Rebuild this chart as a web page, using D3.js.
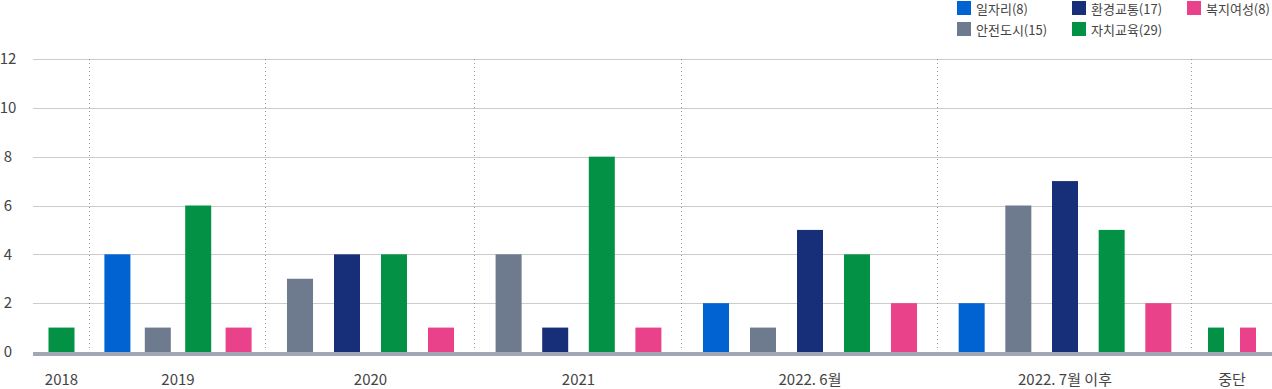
<!DOCTYPE html>
<html>
<head>
<meta charset="utf-8">
<script src="https://cdn.jsdelivr.net/npm/d3@7"></script>
<style>
  body { margin: 0; background: #fff; }
  svg text { font-family: "Noto Sans CJK KR", "Noto Sans", sans-serif; }
</style>
</head>
<body>
<script>
// categories in the order they appear inside each group
const categories = ['일자리', '안전도시', '환경교통', '자치교육', '복지여성'];
const colors = ['#0063d1', '#6e7a8e', '#172f78', '#039145', '#e9418a'];
const periods = ['2018', '2019', '2020', '2021', '2022. 6월', '2022. 7월 이후', '중단'];

// values per period, null = no bar
const jobs      = [null, 4, null, null, 2, 2, null];
const safety    = [null, 1, 3, 4, 1, 6, null];
const transport = [null, null, 4, 1, 5, 7, null];
const education = [1, 6, 4, 8, 4, 5, 1];
const welfare   = [null, 1, 1, 1, 2, 2, 1];

const yTicks = [0, 2, 4, 6, 8, 10, 12];

const series = [jobs, safety, transport, education, welfare];

// layout: relative width of each period column and its bar width
const groupFlex = [57, 176, 209, 207, 256, 254, 80];
const groupBarW = [26, 26, 26, 26, 26, 26, 16];

const width = 1272, height = 389;
const left = 33, right = 1272;

const svg = d3.select('body')
  .append('svg')
  .attr('width', width)
  .attr('height', height);

// outer scale: cumulative column weights -> pixels
const cum = [0];
groupFlex.forEach((w, i) => cum.push(cum[i] + w));
const gx = d3.scaleLinear()
  .domain([0, cum[cum.length - 1]])
  .range([left, right]);

const y = d3.scaleLinear()
  .domain([0, 12])
  .range([352, 59]);

// one band scale per period, bars spaced evenly
const groups = periods.map((p, g) => {
  const cats = categories.map((c, i) => i).filter(i => series[i][g] != null);
  const x0 = gx(cum[g]), x1 = gx(cum[g + 1]);
  const n = cats.length, bw = groupBarW[g];
  const gap = ((x1 - x0) - n * bw) / (n + 1);
  const pad = gap / (bw + gap);
  const band = d3.scaleBand()
    .domain(cats)
    .range([x0, x1])
    .paddingInner(pad)
    .paddingOuter(pad);
  return { name: p, index: g, cats: cats, band: band, x0: x0, x1: x1 };
});

const bars = [];
groups.forEach(gr => {
  gr.cats.forEach(c => bars.push({ group: gr, cat: c, value: series[c][gr.index] }));
});

// grid lines
svg.append('g')
  .selectAll('line')
  .data(yTicks.filter(d => d > 0))
  .enter()
  .append('line')
  .attr('x1', left)
  .attr('x2', right)
  .attr('y1', d => Math.round(y(d)) + 0.5)
  .attr('y2', d => Math.round(y(d)) + 0.5)
  .attr('stroke', '#cccccc');

// y axis labels
const yAxis = d3.axisLeft(y).tickValues(yTicks).tickSize(0).tickPadding(0);
const ya = svg.append('g')
  .attr('transform', 'translate(8,0)')
  .call(yAxis);
ya.select('.domain').remove();
ya.selectAll('text')
  .attr('text-anchor', 'middle')
  .attr('font-size', 15)
  .attr('fill', '#444')
  .style('font-family', '"Noto Sans CJK KR", sans-serif');

// dotted separators
svg.append('g')
  .selectAll('line')
  .data(groups.slice(1))
  .enter()
  .append('line')
  .attr('x1', d => Math.round(d.x0) - 0.5)
  .attr('x2', d => Math.round(d.x0) - 0.5)
  .attr('y1', y(12))
  .attr('y2', y(0) - 2)
  .attr('stroke', '#999')
  .attr('stroke-dasharray', '1,3');

// bars
svg.append('g')
  .selectAll('rect')
  .data(bars)
  .enter()
  .append('rect')
  .attr('x', d => d.group.band(d.cat))
  .attr('y', d => y(d.value))
  .attr('width', d => d.group.band.bandwidth())
  .attr('height', d => y(0) - y(d.value))
  .attr('fill', d => colors[d.cat]);

// baseline band
svg.append('rect')
  .attr('x', left)
  .attr('y', y(0))
  .attr('width', right - left)
  .attr('height', 4)
  .attr('fill', '#a3a6b4');

// period labels
svg.append('g')
  .selectAll('text')
  .data(groups)
  .enter()
  .append('text')
  .attr('x', d => (d.x0 + d.x1) / 2)
  .attr('y', 380)
  .attr('dy', '0.35em')
  .attr('text-anchor', 'middle')
  .attr('font-size', 15)
  .attr('fill', '#444')
  .text(d => d.name);

// legend, two rows filled column by column
const legend = svg.append('g')
  .selectAll('g')
  .data(categories)
  .enter()
  .append('g')
  .attr('transform', (d, i) => 'translate(' + (957 + Math.floor(i / 2) * 115) + ',' + (1 + (i % 2) * 21) + ')');

legend.append('rect')
  .attr('width', 14)
  .attr('height', 14)
  .attr('fill', (d, i) => colors[i]);

legend.append('text')
  .attr('x', 19)
  .attr('y', 8)
  .attr('dy', '0.35em')
  .attr('font-size', 13)
  .attr('fill', '#444')
  .text((d, i) => d + '(' + d3.sum(series[i]) + ')');
</script>
</body>
</html>
